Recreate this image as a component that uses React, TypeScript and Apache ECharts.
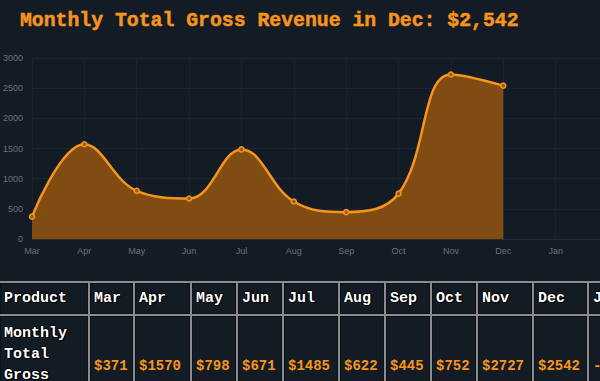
import React, { useEffect, useRef } from "react";
import * as echarts from "echarts";

const months = ["Mar", "Apr", "May", "Jun", "Jul", "Aug", "Sep", "Oct", "Nov", "Dec", "Jan"];
const revenue: (number | null)[] = [371, 1570, 798, 671, 1485, 622, 445, 752, 2727, 2542, null];
const tableMonths = ["Mar", "Apr", "May", "Jun", "Jul", "Aug", "Sep", "Oct", "Nov", "Dec", "Jan"];
const tableValues = ["$371", "$1570", "$798", "$671", "$1485", "$622", "$445", "$752", "$2727", "$2542", "-"];
const colWidths = [88, 43, 55, 44, 44, 54, 44, 44, 44, 54, 53, 59];

const BG = "#131b25";
const ORANGE = "#f7941d";
const MONO = "'Liberation Mono', 'Courier New', monospace";

export default function App() {
  const ref = useRef<HTMLDivElement>(null);

  useEffect(() => {
    document.body.style.margin = "0";
    document.body.style.background = BG;
    const chart = echarts.init(ref.current!, null, { renderer: "svg" });
    chart.setOption({
      animation: false,
      backgroundColor: BG,
      title: {
        text: "Monthly Total Gross Revenue in Dec: $2,542",
        left: 15,
        top: 6,
        textStyle: {
          color: ORANGE,
          fontFamily: MONO,
          fontWeight: "bold",
          fontSize: 19.8,
          textBorderColor: ORANGE,
          textBorderWidth: 0.5,
        },
      },
      grid: { left: 32, right: -8, top: 58, bottom: 31, containLabel: false, outerBoundsMode: "none" },
      xAxis: {
        type: "category",
        data: months,
        boundaryGap: false,
        max: 11,
        axisLine: { show: true, lineStyle: { color: "#222c38" } },
        axisTick: { show: false },
        axisLabel: {
          color: "#6e7278",
          fontSize: 9,
          fontFamily: "Helvetica, Arial, sans-serif",
          margin: 7,
          formatter: (v: string) => (v == null || v === "undefined" ? "" : v),
        },
        splitLine: { show: true, lineStyle: { color: "#19222d" } },
      },
      yAxis: {
        type: "value",
        min: 0,
        max: 3000,
        interval: 500,
        axisLine: { show: false },
        axisTick: { show: false },
        axisLabel: {
          color: "#6e7278",
          fontSize: 9,
          fontFamily: "Helvetica, Arial, sans-serif",
          margin: 9,
          formatter: (v: number) => String(v),
        },
        splitLine: { show: true, lineStyle: { color: "#1c2530" } },
      },
      series: [
        {
          type: "line",
          data: revenue,
          smooth: 0.4,
          symbol: "circle",
          symbolSize: 5,
          showSymbol: true,
          lineStyle: { color: ORANGE, width: 2.5 },
          itemStyle: { color: "#9b5b14", borderColor: ORANGE, borderWidth: 1.5 },
          areaStyle: { color: "#804c12", opacity: 1 },
        },
      ],
    });
    return () => chart.dispose();
  }, []);

  const cellBase: React.CSSProperties = {
    background: BG,
    border: "1px solid #0c121a",
    padding: "4px 3px",
    fontFamily: MONO,
    fontWeight: "bold",
    fontSize: 15,
    lineHeight: "21px",
    textAlign: "left",
    boxSizing: "border-box",
    overflow: "hidden",
    whiteSpace: "nowrap",
  };
  const headStyle: React.CSSProperties = {
    ...cellBase,
    color: "#ffffff",
    textShadow: "1px 1px 0 #000, -1px 0 0 #000, 0 -1px 0 #000, 1px 0 0 #000",
  };
  const valStyle: React.CSSProperties = {
    ...cellBase,
    color: ORANGE,
    fontSize: 14,
    verticalAlign: "middle",
    paddingTop: 8,
  };
  const total = colWidths.reduce((a, b) => a + b, 0) + 2 * (colWidths.length + 1);

  return (
    <div style={{ width: 600, height: 381, overflow: "hidden", background: BG, position: "relative" }}>
      <div ref={ref} style={{ width: 600, height: 270 }} />
      <table
        style={{
          position: "absolute",
          left: -2,
          top: 281,
          borderCollapse: "separate",
          borderSpacing: 2,
          background: "#8c8c8c",
          tableLayout: "fixed",
          width: total,
        }}
      >
        <colgroup>
          {colWidths.map((w, i) => (
            <col key={i} style={{ width: w }} />
          ))}
        </colgroup>
        <thead>
          <tr>
            <th style={headStyle}>Product</th>
            {tableMonths.map((m) => (
              <th key={m} style={headStyle}>
                {m}
              </th>
            ))}
          </tr>
        </thead>
        <tbody>
          <tr>
            <td style={{ ...headStyle, verticalAlign: "top", whiteSpace: "normal", paddingTop: 6 }}>
              Monthly Total Gross Revenue
            </td>
            {tableValues.map((v, i) => (
              <td key={i} style={valStyle}>
                {v}
              </td>
            ))}
          </tr>
        </tbody>
      </table>
    </div>
  );
}
